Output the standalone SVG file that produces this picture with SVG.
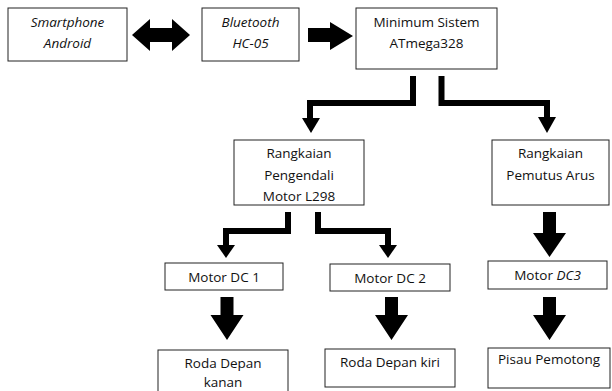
<svg xmlns="http://www.w3.org/2000/svg" width="612" height="391" viewBox="0 0 612 391">
<style>
.box{fill:#fff;stroke:#222;stroke-width:1}
.t{font-family:"Open Sans","Liberation Sans",sans-serif;font-size:13.5px;fill:#111;text-anchor:middle}
.i{font-style:italic}
.ln{fill:none;stroke:#000;stroke-width:6;stroke-linejoin:miter}
.ah{fill:#000}
</style>
<rect width="612" height="391" fill="#fff"/>
<g id="connectors">
<polygon class="ah" points="132,35 150,19 150,28 172,28 172,19 190,35 172,51 172,42 150,42 150,51"/>
<polygon class="ah" points="308,28 330,28 330,22 353,36 330,50 330,42 308,42"/>
<polyline class="ln" points="413,76 413,103 310,103 310,119"/>
<polygon class="ah" points="302,118 320,118 311,133"/>
<polyline class="ln" points="441.5,76 441.5,103 547,103 547,118"/>
<polygon class="ah" points="538,117 556,117 547,133"/>
<polyline class="ln" points="288,212 288,231 226,231 226,246"/>
<polygon class="ah" points="217,245 235,245 226,258"/>
<polyline class="ln" points="318,212 318,231 388,231 388,246"/>
<polygon class="ah" points="379,245 397,245 388,258"/>
<polygon class="ah" points="543,212 556,212 556,233 566,233 549.5,257 533,233 543,233"/>
<polygon class="ah" points="543,297 556,297 556,315 566,315 549.5,340 533,315 543,315"/>
<polygon class="ah" points="220.5,297 233.5,297 233.5,315 243.5,315 227,340 210.5,315 220.5,315"/>
<polygon class="ah" points="385,297 398,297 398,315 408,315 391.5,340 375,315 385,315"/>
</g>
<g id="smartphone"><rect class="box" x="8" y="8" width="119" height="53"/><text class="t i" x="67.5" y="27">Smartphone</text><text class="t i" x="67.5" y="48">Android</text></g>
<g id="bluetooth"><rect class="box" x="202" y="8" width="97" height="53"/><text class="t i" x="250.5" y="27">Bluetooth</text><text class="t i" x="250.5" y="48">HC-05</text></g>
<g id="minsys"><rect class="box" x="356" y="8" width="141" height="61"/><text class="t" x="426.5" y="27">Minimum Sistem</text><text class="t" x="426.5" y="48">ATmega328</text></g>
<g id="l298"><rect class="box" x="234" y="140" width="130" height="65"/><text class="t" x="299" y="158">Rangkaian</text><text class="t" x="299" y="180">Pengendali</text><text class="t" x="299" y="201">Motor L298</text></g>
<g id="pemutus"><rect class="box" x="492" y="140" width="117" height="65"/><text class="t" x="550.5" y="158">Rangkaian</text><text class="t" x="550.5" y="180">Pemutus Arus</text></g>
<g id="dc1"><rect class="box" x="165" y="263" width="118" height="27"/><text class="t" x="224" y="282">Motor DC 1</text></g>
<g id="dc2"><rect class="box" x="330" y="264" width="120" height="27"/><text class="t" x="390" y="283">Motor DC 2</text></g>
<g id="dc3"><rect class="box" x="488" y="261" width="119" height="28"/><text class="t" x="547.5" y="280">Motor <tspan class="i">DC3</tspan></text></g>
<g id="rodakanan"><rect class="box" x="158" y="350" width="130" height="45"/><text class="t" x="223" y="368">Roda Depan</text><text class="t" x="223" y="387">kanan</text></g>
<g id="rodakiri"><rect class="box" x="325" y="349" width="130" height="38"/><text class="t" x="390" y="367">Roda Depan kiri</text></g>
<g id="pisau"><rect class="box" x="488" y="348" width="122" height="40"/><text class="t" x="549" y="364">Pisau Pemotong</text></g>
</svg>
